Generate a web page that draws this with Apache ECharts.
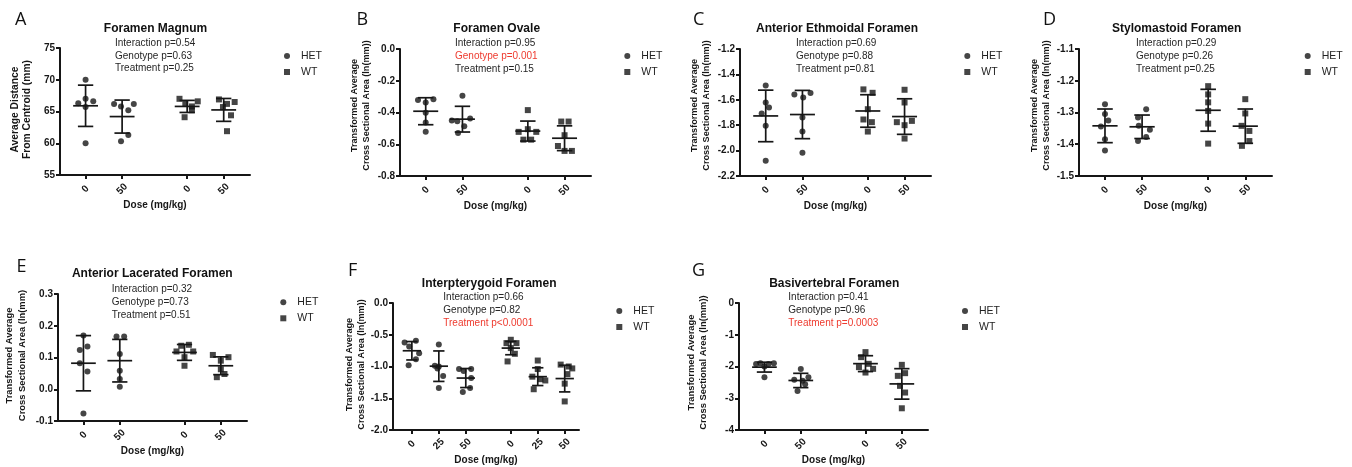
<!DOCTYPE html>
<html><head><meta charset="utf-8">
<script src="https://cdn.jsdelivr.net/npm/echarts@6/dist/echarts.min.js"></script>
<style>html,body{margin:0;padding:0;background:#fff}#c{width:1352px;height:467px}</style>
</head><body><div id="c"></div><script>
// ---------- DATA ----------
// Panel A – Foramen Magnum
const A_doses = ['0', '50', '0', '50'];
const A_groups = ['HET', 'HET', 'WT', 'WT'];
const A_values = [
  [70.0, 66.3, 67.0, 66.6, 65.7, 60.0],
  [66.2, 65.8, 65.2, 66.2, 61.3, 60.3],
  [67.0, 66.2, 65.8, 66.6, 65.2, 64.1],
  [66.9, 66.5, 66.2, 65.7, 64.4, 61.9]
];
const A_jitter = [
  [0, -0.2, 0, 0.21, 0, 0],
  [-0.22, -0.03, 0.17, 0.32, 0.17, -0.03],
  [-0.21, -0.05, 0.13, 0.29, 0.13, -0.07],
  [-0.13, 0.3, 0.09, -0.02, 0.2, 0.09]
];
const A_mean = [65.9, 64.2, 65.8, 65.25];
const A_sd = [3.25, 2.6, 0.95, 1.8];
const A_stats = ['Interaction p=0.54', 'Genotype p=0.63', 'Treatment p=0.25'];
const A_sig = [false, false, false];

// Panel B – Foramen Ovale
const B_doses = ['0', '50', '0', '50'];
const B_groups = ['HET', 'HET', 'WT', 'WT'];
const B_values = [
  [-0.322, -0.316, -0.337, -0.402, -0.463, -0.522],
  [-0.295, -0.45, -0.455, -0.438, -0.486, -0.529],
  [-0.385, -0.505, -0.522, -0.522, -0.571, -0.571],
  [-0.457, -0.457, -0.543, -0.611, -0.642, -0.642]
];
const B_jitter = [
  [-0.21, 0.21, 0, 0, 0, 0],
  [0, -0.29, -0.14, 0.21, 0.05, -0.12],
  [0, 0, -0.25, 0.23, -0.12, 0.09],
  [-0.09, 0.11, 0, -0.18, 0, 0.2]
];
const B_mean = [-0.392, -0.442, -0.517, -0.562];
const B_sd = [0.085, 0.081, 0.063, 0.078];
const B_stats = ['Interaction p=0.95', 'Genotype p=0.001', 'Treatment p=0.15'];
const B_sig = [false, true, false];

// Panel C – Anterior Ethmoidal Foramen
const C_doses = ['0', '50', '0', '50'];
const C_groups = ['HET', 'HET', 'WT', 'WT'];
const C_values = [
  [-1.487, -1.621, -1.661, -1.708, -1.805, -2.079],
  [-1.558, -1.582, -1.547, -1.739, -1.85, -2.016],
  [-1.518, -1.545, -1.674, -1.755, -1.776, -1.85],
  [-1.521, -1.621, -1.776, -1.766, -1.8, -1.905]
];
const C_jitter = [
  [0, 0, 0.09, -0.11, 0, 0],
  [-0.22, 0.02, 0.22, 0, 0, 0],
  [-0.12, 0.13, 0, -0.12, 0.11, 0],
  [0, 0, -0.21, 0.2, 0, 0]
];
const C_mean = [-1.727, -1.716, -1.688, -1.732];
const C_sd = [0.203, 0.19, 0.128, 0.14];
const C_stats = ['Interaction p=0.69', 'Genotype p=0.88', 'Treatment p=0.81'];
const C_sig = [false, false, false];

// Panel D – Stylomastoid Foramen
const D_doses = ['0', '50', '0', '50'];
const D_groups = ['HET', 'HET', 'WT', 'WT'];
const D_values = [
  [-1.274, -1.305, -1.325, -1.344, -1.384, -1.42],
  [-1.29, -1.316, -1.342, -1.354, -1.377, -1.39],
  [-1.217, -1.243, -1.268, -1.295, -1.335, -1.398],
  [-1.258, -1.303, -1.342, -1.358, -1.39, -1.405]
];
const D_jitter = [
  [0, 0, 0.09, -0.11, 0, 0],
  [0.11, -0.11, -0.09, 0.21, 0.11, -0.11],
  [0, 0, 0, 0, 0, 0],
  [0, 0, -0.1, 0.11, 0.11, -0.09]
];
const D_mean = [-1.342, -1.345, -1.293, -1.343];
const D_sd = [0.053, 0.037, 0.066, 0.054];
const D_stats = ['Interaction p=0.29', 'Genotype p=0.26', 'Treatment p=0.25'];
const D_sig = [false, false, false];

// Panel E – Anterior Lacerated Foramen
const E_doses = ['0', '50', '0', '50'];
const E_groups = ['HET', 'HET', 'WT', 'WT'];
const E_values = [
  [0.169, 0.124, 0.135, 0.082, 0.056, -0.076],
  [0.166, 0.166, 0.111, 0.058, 0.032, 0.008],
  [0.137, 0.14, 0.119, 0.119, 0.101, 0.074],
  [0.108, 0.101, 0.09, 0.063, 0.048, 0.038]
];
const E_jitter = [
  [0, -0.1, 0.11, -0.1, 0.11, 0],
  [-0.09, 0.12, 0, 0, 0, 0],
  [-0.09, 0.12, -0.22, 0.24, 0, 0],
  [-0.22, 0.21, 0, 0, 0.1, -0.11]
];
const E_mean = [0.082, 0.09, 0.116, 0.074];
const E_sd = [0.087, 0.067, 0.025, 0.028];
const E_stats = ['Interaction p=0.32', 'Genotype p=0.73', 'Treatment p=0.51'];
const E_sig = [false, false, false];

// Panel F – Interpterygoid Foramen
const F_doses = ['0', '25', '50', '0', '25', '50'];
const F_groups = ['HET', 'HET', 'HET', 'WT', 'WT', 'WT'];
const F_values = [
  [-0.622, -0.595, -0.685, -0.79, -0.884, -0.98],
  [-0.653, -0.99, -1.0, -1.03, -1.15, -1.34],
  [-1.04, -1.04, -1.07, -1.18, -1.34, -1.40],
  [-0.579, -0.632, -0.632, -0.71, -0.8, -0.92],
  [-0.906, -1.04, -1.16, -1.2, -1.22, -1.358],
  [-0.97, -1.0, -1.03, -1.12, -1.27, -1.55]
];
const F_jitter = [
  [-0.27, 0.15, -0.1, 0.27, 0.15, -0.12],
  [0, -0.15, 0, -0.05, 0.16, 0],
  [-0.25, 0.2, -0.08, 0.2, 0.16, -0.11],
  [0, -0.16, 0.21, 0, 0.15, -0.12],
  [0, 0, -0.2, 0.1, 0.28, -0.15],
  [-0.15, 0.15, 0.28, 0.1, 0, 0]
];
const F_mean = [-0.752, -0.995, -1.182, -0.71, -1.16, -1.19];
const F_sd = [0.145, 0.24, 0.15, 0.105, 0.14, 0.21];
const F_stats = ['Interaction p=0.66', 'Genotype p=0.82', 'Treatment p<0.0001'];
const F_sig = [false, false, true];

// Panel G – Basivertebral Foramen
const G_doses = ['0', '50', '0', '50'];
const G_groups = ['HET', 'HET', 'WT', 'WT'];
const G_values = [
  [-1.92, -1.90, -1.92, -1.90, -2.0, -2.34],
  [-2.08, -2.34, -2.42, -2.45, -2.56, -2.77],
  [-1.547, -1.705, -1.916, -2.02, -2.074, -2.19],
  [-1.948, -2.21, -2.295, -2.61, -2.82, -3.316]
];
const G_jitter = [
  [-0.23, -0.11, 0.11, 0.26, 0, 0],
  [0, 0.21, -0.18, 0.05, 0.12, -0.09],
  [0, -0.12, 0.09, -0.18, 0.21, 0],
  [0, 0.09, -0.11, -0.05, 0.09, 0]
];
const G_mean = [-2.02, -2.44, -1.91, -2.548];
const G_sd = [0.155, 0.225, 0.25, 0.48];
const G_stats = ['Interaction p=0.41', 'Genotype p=0.96', 'Treatment p=0.0003'];
const G_sig = [false, false, true];

const Y_NAME_AREA = 'Transformed Average\nCross Sectional Area (ln(mm))';

// ---------- LAYOUT ----------
const POS4 = [1, 2, 3.78, 4.78];
const POS6 = [1, 2, 3, 4.67, 5.67, 6.67];
const INK = '#161616';
const RED = '#ee3b2f';
const FONT = 'Liberation Sans, Arial, sans-serif';

const panels = [
  {letter: 'A', title: 'Foramen Magnum', stats: A_stats, sig: A_sig, yName: 'Average Distance\nFrom Centroid (mm)',
   doses: A_doses, groups: A_groups, values: A_values, jitter: A_jitter, mean: A_mean, sd: A_sd,
   yMin: 55, yMax: 75, yInt: 5, dec: 0,
   box: {left: 60, top: 48, width: 190, height: 127}, pos: POS4, xMax: 5.5,
   letterXY: [15, 19.5], titleXY: [155.5, 28.5], statsXY: [115, 43], legendXY: [284, 50.5],
   yNameGap: 27, yNameShift: 2, yNameSize: 10.3, yNameLH: 11.7},
  {letter: 'B', title: 'Foramen Ovale', stats: B_stats, sig: B_sig, yName: Y_NAME_AREA,
   doses: B_doses, groups: B_groups, values: B_values, jitter: B_jitter, mean: B_mean, sd: B_sd,
   yMin: -0.8, yMax: 0, yInt: 0.2, dec: 1,
   box: {left: 400, top: 49, width: 191, height: 127}, pos: POS4, xMax: 5.5,
   letterXY: [356.5, 19.7], titleXY: [496.7, 28.5], statsXY: [455, 43.3], legendXY: [624.3, 50.5],
   yNameGap: 27.5, yNameShift: 7, yNameSize: 9.1, yNameLH: 11.7},
  {letter: 'C', title: 'Anterior Ethmoidal Foramen', stats: C_stats, sig: C_sig, yName: Y_NAME_AREA,
   doses: C_doses, groups: C_groups, values: C_values, jitter: C_jitter, mean: C_mean, sd: C_sd,
   yMin: -2.2, yMax: -1.2, yInt: 0.2, dec: 1,
   box: {left: 740, top: 49, width: 191, height: 127}, pos: POS4, xMax: 5.5,
   letterXY: [693, 19.5], titleXY: [837, 28.5], statsXY: [796, 43.3], legendXY: [964.3, 50.5],
   yNameGap: 27.5, yNameShift: 7, yNameSize: 9.1, yNameLH: 11.7},
  {letter: 'D', title: 'Stylomastoid Foramen', stats: D_stats, sig: D_sig, yName: Y_NAME_AREA,
   doses: D_doses, groups: D_groups, values: D_values, jitter: D_jitter, mean: D_mean, sd: D_sd,
   yMin: -1.5, yMax: -1.1, yInt: 0.1, dec: 1,
   box: {left: 1079, top: 49, width: 193, height: 127}, pos: POS4, xMax: 5.5,
   letterXY: [1043, 19.5], titleXY: [1176.7, 28.5], statsXY: [1136, 43.3], legendXY: [1304.7, 50.5],
   yNameGap: 26.5, yNameShift: 7, yNameSize: 9.1, yNameLH: 11.7},
  {letter: 'E', title: 'Anterior Lacerated Foramen', stats: E_stats, sig: E_sig, yName: 'Transformed Average\nCross Sectional Area (ln(mm)',
   doses: E_doses, groups: E_groups, values: E_values, jitter: E_jitter, mean: E_mean, sd: E_sd,
   yMin: -0.1, yMax: 0.3, yInt: 0.1, dec: 1,
   box: {left: 58, top: 294, width: 189, height: 127}, pos: POS4, xMax: 5.5,
   letterXY: [16.5, 266.7], titleXY: [152.3, 274], statsXY: [111.7, 289.3], legendXY: [280.3, 296.8],
   yNameGap: 29.5, yNameShift: 2, yNameSize: 9.4, yNameLH: 12.5},
  {letter: 'F', title: 'Interpterygoid Foramen', stats: F_stats, sig: F_sig, yName: Y_NAME_AREA,
   doses: F_doses, groups: F_groups, values: F_values, jitter: F_jitter, mean: F_mean, sd: F_sd,
   yMin: -2, yMax: 0, yInt: 0.5, dec: 1,
   box: {left: 393, top: 303, width: 186, height: 127}, pos: POS6, xMax: 7.2,
   letterXY: [348, 271.3], titleXY: [489.2, 283.3], statsXY: [443.3, 297.3], legendXY: [616.3, 305.5],
   yNameGap: 26, yNameShift: 2, yNameSize: 9.1, yNameLH: 11.7},
  {letter: 'G', title: 'Basivertebral Foramen', stats: G_stats, sig: G_sig, yName: Y_NAME_AREA,
   doses: G_doses, groups: G_groups, values: G_values, jitter: G_jitter, mean: G_mean, sd: G_sd,
   yMin: -4, yMax: 0, yInt: 1, dec: 0,
   box: {left: 739, top: 303, width: 189, height: 127}, pos: POS4, xMax: 5.5,
   letterXY: [692, 271.3], titleXY: [834.2, 283.3], statsXY: [788.3, 297.3], legendXY: [962, 305.5],
   yNameGap: 29, yNameShift: 4, yNameSize: 9.4, yNameLH: 12.5}
];

// ---------- OPTION ----------
const grid = [], xAxis = [], yAxis = [], series = [], legend = [], graphic = [];

panels.forEach((p, i) => {
  grid.push(Object.assign({outerBoundsMode: 'none', containLabel: false}, p.box));
  xAxis.push({
    gridIndex: i, type: 'value', min: 0.3, max: p.xMax,
    axisLine: {show: true, onZero: false, lineStyle: {color: INK, width: 2}},
    axisTick: {show: true, customValues: p.pos, length: 4, lineStyle: {color: INK, width: 2}},
    axisLabel: {show: true, customValues: p.pos, rotate: 45,
      formatter: v => { const k = p.pos.findIndex(q => Math.abs(q - v) < 1e-6); return k >= 0 ? p.doses[k] : ''; },
      fontSize: 10, fontWeight: 'bold', fontFamily: FONT, color: INK, margin: 14, align: 'center', verticalAlign: 'middle'},
    splitLine: {show: false},
    name: 'Dose (mg/kg)', nameLocation: 'middle', nameGap: 25,
    nameTextStyle: {fontSize: 10, fontWeight: 'bold', fontFamily: FONT, color: INK}
  });
  yAxis.push({
    gridIndex: i, type: 'value', min: p.yMin, max: p.yMax, interval: p.yInt,
    axisLine: {show: true, onZero: false, lineStyle: {color: INK, width: 2}},
    axisTick: {show: true, length: 4, lineStyle: {color: INK, width: 2}},
    axisLabel: {formatter: v => (Math.abs(v) < 1e-9 ? 0 : v).toFixed(p.dec), fontSize: 10, fontWeight: 'bold',
      fontFamily: FONT, color: INK, margin: 5, showMinLabel: true, showMaxLabel: true},
    splitLine: {show: false},
    name: p.yName, nameLocation: 'middle', nameRotate: 90, nameGap: p.yNameGap,
    nameTextStyle: {fontSize: p.yNameSize, fontWeight: 'bold', fontFamily: FONT, color: INK,
      lineHeight: p.yNameLH, padding: [0, 0, 0, 2 * p.yNameShift]}
  });

  ['HET', 'WT'].forEach(gname => {
    const data = [];
    p.groups.forEach((g, gi) => {
      if (g !== gname) return;
      p.values[gi].forEach((v, k) => data.push([p.pos[gi] + p.jitter[gi][k], v]));
    });
    series.push({
      type: 'scatter', name: gname, xAxisIndex: i, yAxisIndex: i, data,
      symbol: gname === 'HET' ? 'circle' : 'rect', symbolSize: 6,
      itemStyle: {color: INK}, silent: true, z: 2
    });
  });

  series.push({
    type: 'custom', name: 'meanSD' + p.letter, xAxisIndex: i, yAxisIndex: i, silent: true, z: 3,
    data: p.mean.map((m, gi) => [p.pos[gi], m, p.sd[gi]]),
    encode: {x: 0, y: 1},
    renderItem: (params, api) => {
      const x = api.value(0), m = api.value(1), s = api.value(2);
      const seg = (x1, y1, x2, y2) => {
        const a = api.coord([x1, y1]), b = api.coord([x2, y2]);
        return {type: 'line', shape: {x1: a[0], y1: a[1], x2: b[0], y2: b[1]}, style: {stroke: INK, lineWidth: 1.7}};
      };
      return {type: 'group', children: [
        seg(x - 0.34, m, x + 0.34, m),
        seg(x, m - s, x, m + s),
        seg(x - 0.21, m + s, x + 0.21, m + s),
        seg(x - 0.21, m - s, x + 0.21, m - s)
      ]};
    }
  });

  legend.push({
    orient: 'vertical', left: p.legendXY[0], top: p.legendXY[1], padding: 0,
    itemWidth: 6, itemHeight: 6, itemGap: 5, selectedMode: false,
    textStyle: {fontSize: 10.5, fontFamily: FONT, color: '#222', padding: [0, 0, 0, 6]},
    data: [{name: 'HET', icon: 'circle'}, {name: 'WT', icon: 'rect'}],
    itemStyle: {color: INK}
  });

  graphic.push({type: 'text', x: p.letterXY[0], y: p.letterXY[1], silent: true,
    style: {text: p.letter, fontSize: 18, fontFamily: 'Open Sans, sans-serif', fill: '#111', align: 'left', verticalAlign: 'middle'}});
  graphic.push({type: 'text', x: p.titleXY[0], y: p.titleXY[1], silent: true,
    style: {text: p.title, fontSize: 12, fontWeight: 'bold', fontFamily: FONT, fill: '#111', align: 'center', verticalAlign: 'middle'}});
  p.stats.forEach((s, k) => {
    graphic.push({type: 'text', x: p.statsXY[0], y: p.statsXY[1] + k * 12.8, silent: true,
      style: {text: s, fontSize: 10, fontFamily: FONT, fill: p.sig[k] ? RED : '#262626', align: 'left', verticalAlign: 'middle'}});
  });
});

const chart = echarts.init(document.getElementById('c'), null, {renderer: 'canvas'});
chart.setOption({animation: false, backgroundColor: '#fff', grid, xAxis, yAxis, series, legend, graphic, tooltip: {show: false}});
</script></body></html>
